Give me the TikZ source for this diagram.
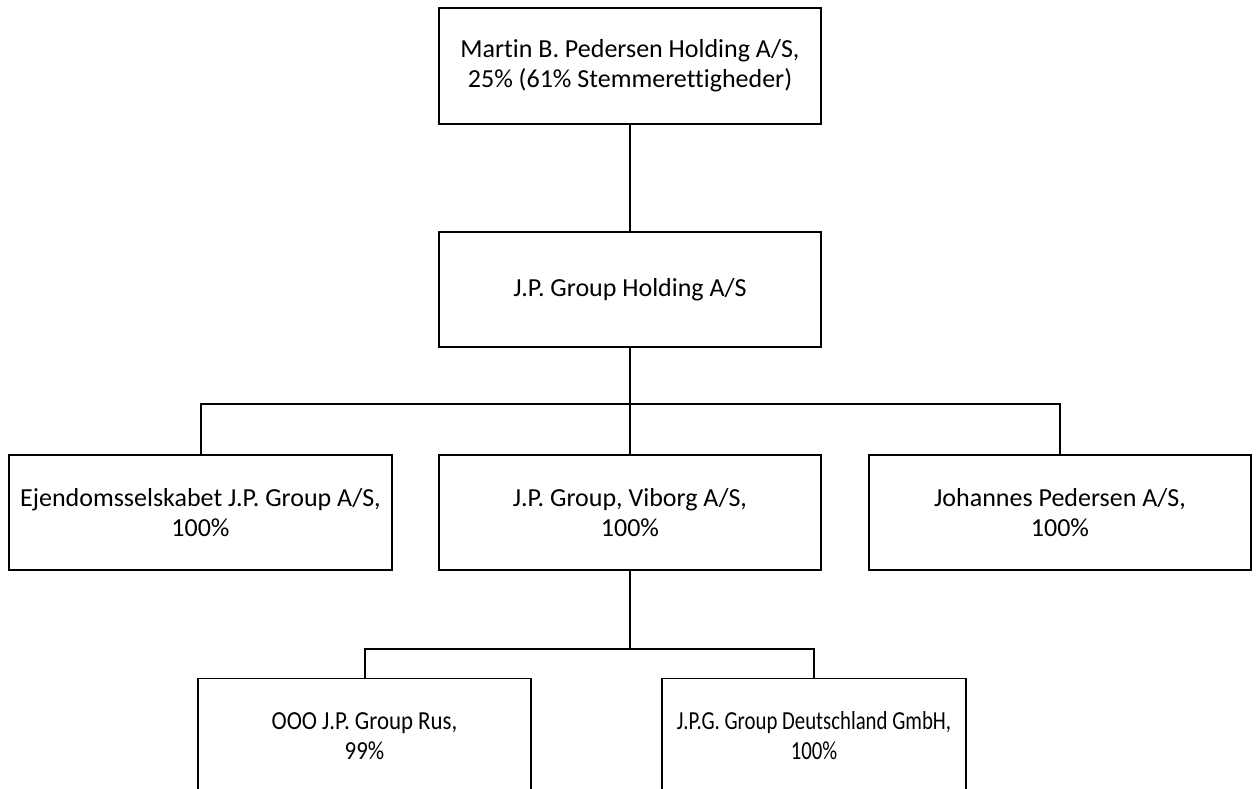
\documentclass[tikz,border=0pt]{standalone}
\usepackage{fontspec}
\setmainfont{Carlito}[Ligatures=NoCommon]
\begin{document}
\begin{tikzpicture}[x=0.75pt,y=-0.75pt,
  orgbox/.style={draw=black,line width=1.3pt,rectangle,inner sep=0pt,align=center,
    font=\fontsize{19.5}{22.5}\selectfont,minimum height=115*0.75pt},
  link/.style={draw=black,line width=1.5pt}]
\useasboundingbox (0,0) rectangle (1257,789);
\clip (0,0) rectangle (1257,789);
\fill[white] (0,0) rectangle (1257,789);
\node[orgbox,minimum width=382*0.75pt,minimum height=116*0.75pt] (top) at (630,66) {Martin B. Pedersen Holding A/S,\\25\% (61\% Stemmerettigheder)};
\node[orgbox,minimum width=382*0.75pt] (hold) at (630,289.5) {J.P. Group Holding A/S};
\node[orgbox,minimum width=383*0.75pt] (ejd) at (200.5,512.5) {Ejendomsselskabet J.P. Group A/S,\\100\%};
\node[orgbox,minimum width=382*0.75pt] (vib) at (630,512.5) {J.P. Group, Viborg A/S,\\100\%};
\node[orgbox,minimum width=382*0.75pt] (joh) at (1060,512.5) {Johannes Pedersen A/S,\\100\%};
\node[orgbox,minimum width=333*0.75pt] (rus) at (364.5,736) {\scalebox{0.88}[1]{OOO J.P. Group Rus,}\\\scalebox{0.88}[1]{99\%}};
\node[orgbox,minimum width=304*0.75pt] (de) at (814,736) {\scalebox{0.8}[1]{J.P.G. Group Deutschland GmbH,}\\\scalebox{0.8}[1]{100\%}};
\coordinate (b1) at (630,404);
\coordinate (b2) at (630,649);
\draw[link] (top.south) -- (hold.north);
\draw[link] (hold.south) -- (b1) -- (vib.north);
\draw[link] (b1) -| (ejd.north);
\draw[link] (b1) -| (joh.north);
\draw[link] (vib.south) -- (b2);
\draw[link] (b2) -| (rus.north);
\draw[link] (b2) -| (de.north);
\end{tikzpicture}
\end{document}
